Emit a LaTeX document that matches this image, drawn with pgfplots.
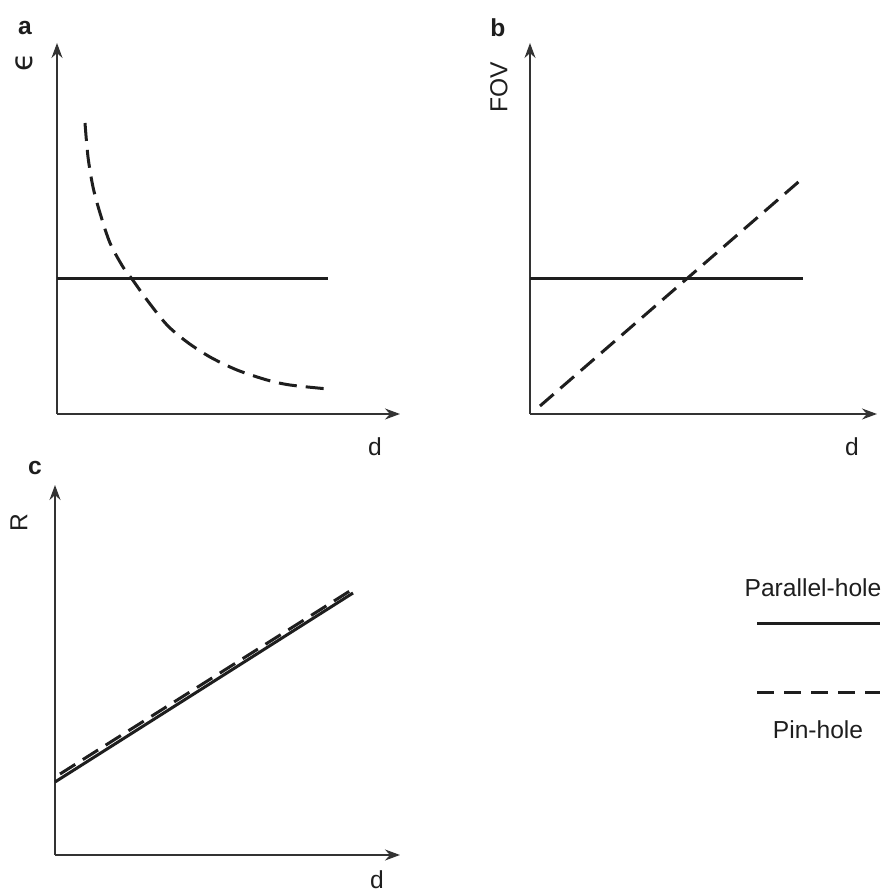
\documentclass[border=0pt]{standalone}
\usepackage{pgfplots}
\pgfplotsset{compat=1.18}
\usepackage{fontspec}
\setmainfont{Liberation Sans}
\newfontfamily\symfont{DejaVu Sans}
\usetikzlibrary{arrows.meta}

\definecolor{ink}{HTML}{1E1E1E}
\definecolor{axisgray}{HTML}{333333}

\pgfplotsset{
  sketch/.style={
    scale only axis,
    anchor=south west,
    axis lines=left,
    xtick=\empty, ytick=\empty,
    xmin=0, ymin=0,
    clip=false,
    axis line style={line width=0.7pt, color=axisgray},
    x axis line style={-{Stealth[length=7.5pt,width=5.5pt]}},
    y axis line style={-{Stealth[length=7.5pt,width=5.5pt]}},
  },
  parallel/.style={ink, line width=1.5pt, no marks},
  pinhole/.style={ink, line width=1.5pt, no marks, dash pattern=on 9pt off 4.5pt},
}

\begin{document}
\begin{tikzpicture}[font=\fontsize{12.3pt}{14pt}\selectfont, text=ink]
\useasboundingbox (0,0) rectangle (444.5pt,447pt);

% (a) sensitivity versus distance
\begin{axis}[sketch, at={(28.5pt,240pt)}, width=171.5pt, height=185.5pt,
             xmax=343, ymax=371]
  \addplot[parallel] coordinates {(0,135) (271,135)};
  \addplot[pinhole, smooth] coordinates {
    (28,291) (31,257) (36,227) (43,201) (53,171) (66,147) (75,135)
    (90,114) (110,89) (130,72) (153,57) (180,44) (210,34) (233,29) (271,25)};
\end{axis}

% (b) field of view versus distance
\begin{axis}[sketch, at={(265pt,240pt)}, width=173.5pt, height=185.5pt,
             xmax=347, ymax=371]
  \addplot[parallel] coordinates {(0,135) (273,135)};
  \addplot[pinhole] coordinates {(10,8) (273,236)};
\end{axis}

% (c) resolution versus distance
\begin{axis}[sketch, at={(27.5pt,19.5pt)}, width=172.5pt, height=185pt,
             xmax=345, ymax=370]
  \addplot[parallel] coordinates {(0,73) (298,262)};
  \addplot[pinhole] coordinates {(5,81) (298,266)};
\end{axis}

% panel letters and axis names
\node[font=\fontsize{12.3pt}{14pt}\selectfont\bfseries, inner sep=0] at (12.5pt,433pt) {a};
\node[font=\fontsize{12.3pt}{14pt}\selectfont\bfseries, inner sep=0] at (249pt,433pt) {b};
\node[font=\fontsize{12.3pt}{14pt}\selectfont\bfseries, inner sep=0] at (17.5pt,213pt) {c};
\node[rotate=90, inner sep=0, font=\symfont\fontsize{15pt}{17pt}\selectfont] at (12pt,416pt) {ϵ};
\node[rotate=90, inner sep=0] at (249.5pt,403.5pt) {FOV};
\node[rotate=90, inner sep=0] at (9.5pt,185.5pt) {R};
\node[inner sep=0] at (187.5pt,223.5pt) {d};
\node[inner sep=0] at (426pt,223.5pt) {d};
\node[inner sep=0] at (188.5pt,7pt) {d};

% key
\node[inner sep=0] at (406.5pt,153pt) {Parallel-hole};
\draw[ink, line width=1.5pt] (378.5pt,135pt) -- (440pt,135pt);
\draw[ink, line width=1.5pt, dash pattern=on 8.5pt off 5pt] (378.5pt,100.5pt) -- (440pt,100.5pt);
\node[inner sep=0] at (409pt,82pt) {Pin-hole};
\end{tikzpicture}
\end{document}
